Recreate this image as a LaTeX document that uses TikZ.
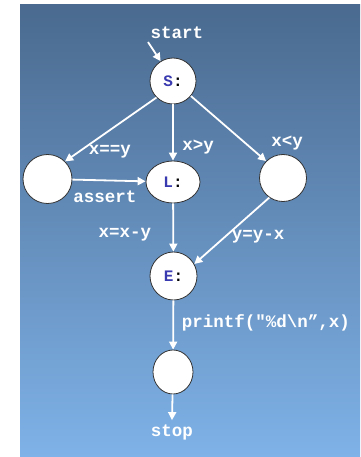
\documentclass[tikz,border=0pt]{standalone}
\usepackage{fontspec}
\setmonofont{Liberation Mono}
\usetikzlibrary{arrows.meta,shapes.geometric}
\definecolor{bgtop}{HTML}{4A6A8F}
\definecolor{bgbot}{HTML}{7FB2E8}
\definecolor{lblue}{HTML}{3A3AB0}
\tikzset{
  st/.style={draw=black!80,line width=0.8pt,fill=white,ellipse,inner sep=0pt},
  lbl/.style={text=white,font=\ttfamily\bfseries\fontsize{17.5}{20}\selectfont,inner sep=0pt},
  nlab/.style={font=\ttfamily\bfseries\fontsize{16}{18}\selectfont},
  arr/.style={draw=white,line width=1.8pt,-{Triangle[width=8pt,length=8pt]}}
}
\newcommand{\nl}[1]{\textcolor{lblue}{#1}\textcolor{black}{:}}
\begin{document}
\begin{tikzpicture}[x=1pt,y=-1pt]
\useasboundingbox (0,0) rectangle (360,457);
\shade[top color=bgtop,bottom color=bgbot] (20,5) rectangle (360,457);
\node[st,minimum width=46pt,minimum height=46pt,nlab] (S) at (173,81) {\nl{S}};
\node[st,minimum width=49pt,minimum height=49pt] (A) at (47.5,179) {};
\node[st,minimum width=54pt,minimum height=42pt,nlab] (L) at (173,182) {\nl{L}};
\node[st,minimum width=47pt,minimum height=47pt] (R) at (283,178) {};
\node[st,minimum width=47pt,minimum height=48pt,nlab] (E) at (173.5,276) {\nl{E}};
\node[st,minimum width=40pt,minimum height=44pt] (F) at (173,372) {};
\node[lbl] (start) at (177,33) {start};
\node[lbl] (stop) at (172,432) {stop};
\coordinate (st0) at (148,42);
\draw[arr] (st0) -- (S.122);
\draw[arr] (S.225) -- (A.45);
\draw[arr] (S) -- (L);
\draw[arr] (S.-40) -- (R.135);
\draw[arr] (A) -- (L);
\draw[arr] (L) -- (E);
\draw[arr] (R.235) -- (E.30);
\draw[arr] (E) -- (F);
\draw[arr] (F) -- ([yshift=4pt]stop.north);
\node[lbl] (l1) at (110,152) {x==y};
\node[lbl] (l2) at (198,147) {x>y};
\node[lbl] (l3) at (287,143) {x<y};
\node[lbl] (l4) at (105,197) {assert};
\node[lbl] (l5) at (125,235) {x=x-y};
\node[lbl] (l6) at (258,237) {y=y-x};
\node[lbl] (l7) at (266,323) {printf("\%d\textbackslash n”,x)};
\end{tikzpicture}
\end{document}
